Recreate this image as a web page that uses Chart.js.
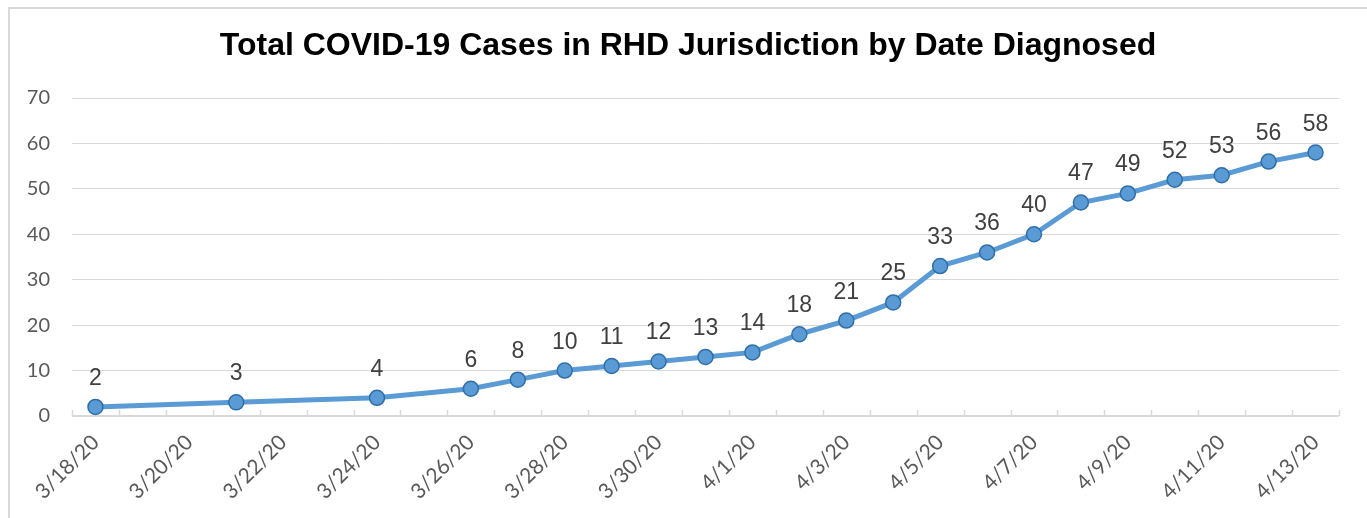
<!DOCTYPE html>
<html>
<head>
<meta charset="utf-8">
<script src="https://cdn.jsdelivr.net/npm/chart.js@4.4.0/dist/chart.umd.min.js"></script>
<style>
    html, body { margin: 0; padding: 0; background: #fff; }
    #wrap { width: 1367px; height: 518px; position: relative; }
</style>
</head>
<body>
<div id="wrap"><canvas id="myChart" width="1367" height="518"></canvas></div>
<script>
// Dates on the axis (one per day), and the cumulative case counts
const dates = [
    "3/18/20", "3/19/20", "3/20/20", "3/21/20", "3/22/20", "3/23/20", "3/24/20",
    "3/25/20", "3/26/20", "3/27/20", "3/28/20", "3/29/20", "3/30/20", "3/31/20",
    "4/1/20", "4/2/20", "4/3/20", "4/4/20", "4/5/20", "4/6/20", "4/7/20",
    "4/8/20", "4/9/20", "4/10/20", "4/11/20", "4/12/20", "4/13/20"
];
const cases = [
    2, null, null, 3, null, null, 4,
    null, 6, 8, 10, 11, 12, 13,
    14, 18, 21, 25, 33, 36, 40,
    47, 49, 52, 53, 56, 58
];
const yTicks = [0, 10, 20, 30, 40, 50, 60, 70];

const TITLE = "Total COVID-19 Cases in RHD Jurisdiction by Date Diagnosed";
const GRID = "#d9d9d9";

// Rahmen links und oben + Titel, wie im Original
const framePlugin = {
    id: "frame",
    beforeDraw(chart) {
        const c = chart.ctx;
        c.save();
        c.strokeStyle = GRID;
        c.lineWidth = 2;
        c.beginPath();
        c.moveTo(9, 518);
        c.lineTo(9, 8);
        c.lineTo(1367, 8);
        c.stroke();

        c.fillStyle = "#000";
        c.font = "bold 32px 'Liberation Sans', Arial, sans-serif";
        c.textAlign = "center";
        c.textBaseline = "middle";
        c.fillText(TITLE, 688, 46);
        c.restore();
    }
};

// kleine Striche nach oben auf der x-Achse
const tickPlugin = {
    id: "upTicks",
    afterDatasetsDraw(chart) {
        const x = chart.scales.x;
        const y = chart.scales.y;
        const c = chart.ctx;
        const step = (x.right - x.left) / dates.length;
        const base = y.getPixelForValue(0);
        c.save();
        c.strokeStyle = GRID;
        c.lineWidth = 1.5;
        c.beginPath();
        for (let i = 0; i <= dates.length; i++) {
            const px = Math.round(x.left + i * step) + 0.5;
            c.moveTo(px, base);
            c.lineTo(px, base - 6);
        }
        c.stroke();
        c.restore();
    }
};

// Zahlen über den Punkten
const labelPlugin = {
    id: "pointLabels",
    afterDatasetsDraw(chart) {
        const meta = chart.getDatasetMeta(0);
        const c = chart.ctx;
        c.save();
        c.fillStyle = "#404040";
        c.font = "23px 'Liberation Sans', Arial, sans-serif";
        c.textAlign = "center";
        c.textBaseline = "alphabetic";
        meta.data.forEach(function (pt, i) {
            if (cases[i] === null) return;
            c.fillText(String(cases[i]), pt.x, pt.y - 22);
        });
        c.restore();
    }
};

const ctx = document.getElementById("myChart").getContext("2d");
const myChart = new Chart(ctx, {
    type: "line",
    data: {
        labels: dates,
        datasets: [{
            data: cases,
            borderColor: "#5b9bd5",
            borderWidth: 5,
            backgroundColor: "#5b9bd5",
            pointBackgroundColor: "#5b9bd5",
            pointBorderColor: "#2f6ea8",
            pointBorderWidth: 1.5,
            pointRadius: 7.5,
            spanGaps: true,
            tension: 0
        }]
    },
    options: {
        responsive: false,
        animation: false,
        layout: { padding: { left: 0, right: 28, top: 98, bottom: 0 } },
        plugins: {
            legend: { display: false },
            tooltip: { enabled: false },
            title: { display: false }
        },
        scales: {
            x: {
                type: "category",
                offset: true,
                grid: { display: false },
                border: { display: false },
                afterFit(scale) { scale.height = 102; },
                ticks: {
                    autoSkip: false,
                    maxRotation: 45,
                    minRotation: 45,
                    padding: 6,
                    color: "#595959",
                    font: { family: "Lato, 'Open Sans', sans-serif", size: 21 },
                    callback(val, i) { return i % 2 === 0 ? dates[i] : ""; }
                }
            },
            y: {
                min: 0,
                max: 70,
                afterFit(scale) { scale.width = 72; },
                afterBuildTicks(scale) { scale.ticks = yTicks.map(v => ({ value: v })); },
                grid: {
                    color: GRID,
                    lineWidth: (c) => c.tick && c.tick.value === 0 ? 2 : 1,
                    drawTicks: false
                },
                border: { display: false },
                ticks: {
                    padding: 22,
                    color: "#595959",
                    font: { family: "Lato, 'Open Sans', sans-serif", size: 20 }
                }
            }
        }
    },
    plugins: [framePlugin, tickPlugin, labelPlugin]
});
</script>
</body>
</html>
